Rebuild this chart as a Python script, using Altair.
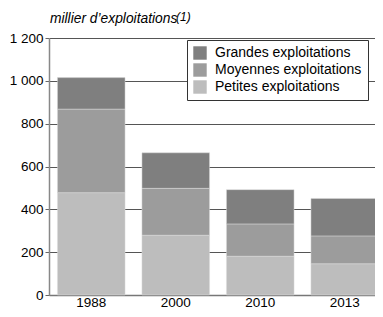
import altair as alt
import pandas as pd

years = ["1988", "2000", "2010", "2013"]
categories = ["Grandes exploitations", "Moyennes exploitations", "Petites exploitations"]
petites = [478, 279, 181, 146]
moyennes = [390, 219, 151, 130]
grandes = [147, 166, 160, 175]
colors = ["#7f7f7f", "#9c9c9c", "#bdbdbd"]
y_ticks = [0, 200, 400, 600, 800, 1000, 1200]
title_main = "millier d\u2019exploitations"
title_note = "(1)"

rows = []
for i, yr in enumerate(years):
    rows.append({"annee": yr, "cat": categories[2], "val": petites[i], "ordre": 0})
    rows.append({"annee": yr, "cat": categories[1], "val": moyennes[i], "ordre": 1})
    rows.append({"annee": yr, "cat": categories[0], "val": grandes[i], "ordre": 2})
df = pd.DataFrame(rows)

FONT = "Liberation Sans"

bars = alt.Chart(df).mark_bar(stroke="#dddddd", strokeWidth=0.5).encode(
    x=alt.X("annee:N", sort=years,
            scale=alt.Scale(paddingInner=0.2, paddingOuter=0.1, range=[0, 338]),
            axis=alt.Axis(title=None, labelAngle=0, tickSize=0, labelPadding=11,
                          labelBaseline="alphabetic",
                          labelFontSize=13.5, labelColor="black", labelFont=FONT,
                          domainColor="#777777", domainWidth=1.5)),
    y=alt.Y("val:Q", stack="zero",
            scale=alt.Scale(domain=[0, 1200], nice=False),
            axis=alt.Axis(values=y_ticks, title=None,
                          labelExpr="replace(format(datum.value, ','), ',', ' ')",
                          tickSize=4, tickColor="#666666", labelPadding=2,
                          labelFontSize=13.5, labelColor="black", labelFont=FONT,
                          domainColor="#888888", domainWidth=1.5,
                          grid=True, gridColor="#555555", gridWidth=1,
                          minExtent=36, maxExtent=36)),
    color=alt.Color("cat:N", scale=alt.Scale(domain=categories, range=colors),
                    legend=alt.Legend(title=None, orient="none", legendX=138, legendY=2,
                                      strokeColor="#333333", fillColor="white", padding=6,
                                      symbolType="square", symbolSize=180,
                                      symbolStrokeWidth=0, symbolOpacity=1,
                                      labelFontSize=14, labelFont=FONT, labelColor="black",
                                      labelOffset=8, rowPadding=3)),
    order=alt.Order("ordre:Q", sort="ascending"),
)

t1 = alt.Chart(pd.DataFrame({"t": [title_main]})).mark_text(
    align="left", baseline="alphabetic", fontStyle="italic", fontSize=13.8,
    font=FONT, color="black"
).encode(x=alt.value(1), y=alt.value(-15), text="t:N")

t2 = alt.Chart(pd.DataFrame({"t": [title_note]})).mark_text(
    align="left", baseline="alphabetic", fontStyle="italic", fontSize=12,
    font=FONT, color="black"
).encode(x=alt.value(127), y=alt.value(-17), text="t:N")

chart = alt.layer(bars, t1, t2).properties(
    width=326, height=257,
    autosize=alt.AutoSizeParams(type="none"),
    padding={"left": 41, "top": 30, "right": 0, "bottom": 14},
).configure_view(stroke=None)

chart.save("out.html", embed_options={"renderer": "svg", "actions": False})
